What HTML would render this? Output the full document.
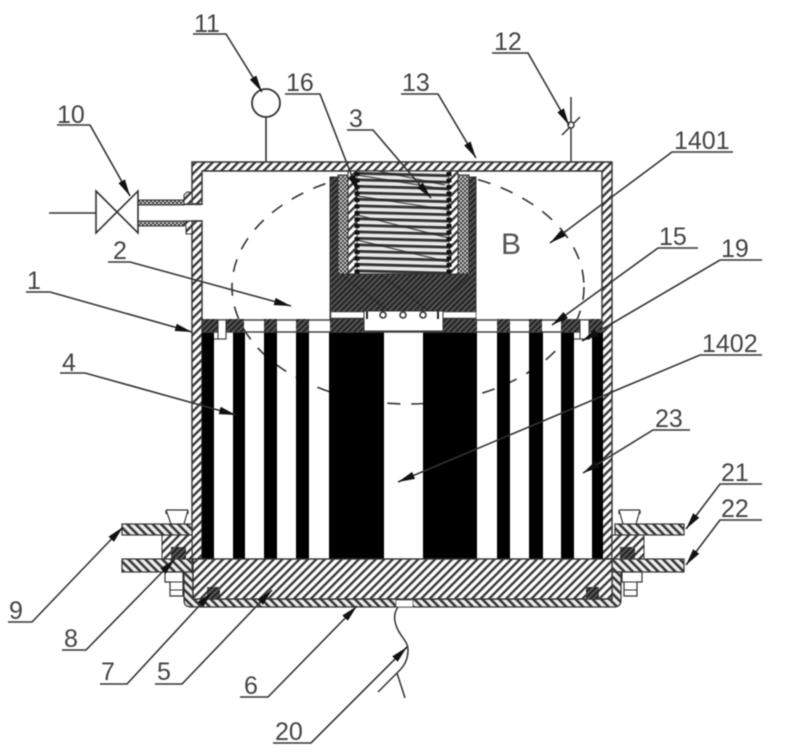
<!DOCTYPE html>
<html><head><meta charset="utf-8"><style>
html,body{margin:0;padding:0;background:#fff}
svg{display:block;filter:blur(.45px)}
text{font-family:"Liberation Sans",sans-serif;font-size:25px;fill:#444}
</style></head><body>
<svg width="800" height="752" viewBox="0 0 800 752" xmlns="http://www.w3.org/2000/svg">
<defs>
<pattern id="h" width="6" height="6" patternUnits="userSpaceOnUse" patternTransform="rotate(45)"><rect width="6" height="6" fill="#fff"/><rect width="2.4" height="6" fill="#3a3a3a"/></pattern>
<pattern id="hr" width="6" height="6" patternUnits="userSpaceOnUse" patternTransform="rotate(-45)"><rect width="6" height="6" fill="#eee"/><rect width="2.6" height="6" fill="#3a3a3a"/></pattern>
<pattern id="d" width="4" height="4" patternUnits="userSpaceOnUse" patternTransform="rotate(45)"><rect width="4" height="4" fill="#555"/><rect width="2" height="4" fill="#222"/></pattern>
<pattern id="x" width="4" height="4" patternUnits="userSpaceOnUse"><rect width="4" height="4" fill="#3a3a3a"/><rect width="2" height="2" fill="#ccc"/><rect x="2" y="2" width="2" height="2" fill="#ccc"/></pattern>
<pattern id="coil" width="8" height="6.5" patternUnits="userSpaceOnUse" patternTransform="rotate(1.5)"><rect width="8" height="6.5" fill="#e8e8e8"/><rect y="0" width="8" height="2.8" fill="#333"/></pattern>
<marker id="a" markerUnits="userSpaceOnUse" markerWidth="18" markerHeight="10" refX="17" refY="5" orient="auto"><path d="M0 1.2L17 5L0 8.8Z" fill="#111"/></marker>
</defs>
<rect width="800" height="752" fill="#fff"/>

<!-- dashed ellipse -->
<ellipse cx="408" cy="287" rx="176" ry="117" fill="none" stroke="#333" stroke-width="1.6" stroke-dasharray="13 11"/>

<!-- wall -->
<path d="M192 162H612V559H602V171H202V204H192ZM192 221H202V559H192Z" fill="url(#h)" stroke="#333" stroke-width="1.4"/>
<!-- pipe and bosses -->
<path d="M184 200V195L187 192H192V204H184ZM184 221H192V234H186V226L184 225Z" fill="url(#h)" stroke="#333" stroke-width="1"/>
<rect x="138" y="200" width="46" height="5" fill="url(#x)" stroke="#333" stroke-width="1"/>
<rect x="138" y="221" width="46" height="5" fill="url(#x)" stroke="#333" stroke-width="1"/>
<path d="M184 204.500H202M184 221H202" stroke="#333" stroke-width="1.2"/>
<path d="M96 191L138 233V191L96 233Z" fill="#fff" stroke="#333" stroke-width="1.6"/>
<path d="M49 213H96" stroke="#333" stroke-width="1.6"/>

<!-- gauge -->
<circle cx="266" cy="103" r="14" fill="#fff" stroke="#333" stroke-width="1.8"/>
<path d="M266 117V162" stroke="#333" stroke-width="1.6"/>
<!-- 12 -->
<path d="M571 97V162M562 135L580 117" stroke="#333" stroke-width="1.5"/>
<circle cx="571" cy="125" r="3" fill="#fff" stroke="#333" stroke-width="1.5"/>

<!-- bars -->
<g fill="#000">
<rect x="202" y="332" width="12" height="227"/>
<rect x="233" y="332" width="12" height="227"/>
<rect x="264" y="332" width="13" height="227"/>
<rect x="296" y="332" width="13" height="227"/>
<rect x="329" y="332" width="55" height="227"/>
<rect x="423" y="332" width="54" height="227"/>
<rect x="497" y="332" width="13" height="227"/>
<rect x="529" y="332" width="14" height="227"/>
<rect x="561" y="332" width="13" height="227"/>
<rect x="592" y="332" width="11" height="227"/>
</g>

<!-- top plate band -->
<path d="M202 320H602M202 332H602" stroke="#444" stroke-width="1.4"/>
<g fill="url(#d)">
<path d="M202 319H218V332H202Z"/>
<path d="M226 319H244V332H226Z"/>
<rect x="264" y="319" width="13" height="13"/>
<rect x="296" y="319" width="13" height="13"/>
<rect x="330" y="319" width="34" height="13"/>
<rect x="443" y="319" width="34" height="13"/>
<rect x="497" y="319" width="13" height="13"/>
<rect x="529" y="319" width="13" height="13"/>
<rect x="561" y="319" width="19" height="13"/>
<rect x="589" y="319" width="13" height="13"/>
</g>
<rect x="218" y="320" width="8" height="19" fill="#fff" stroke="#333"/>
<rect x="580" y="320" width="9" height="19" fill="#fff" stroke="#333"/>
<path d="M214 339H226V333M590 339H574" stroke="#444" stroke-width="1.2" fill="none"/>

<!-- core -->
<rect x="330" y="177" width="146" height="142" fill="url(#d)" stroke="#333"/>
<path d="M340 274L390 312M380 274L430 312M430 274L390 312M470 276L430 312" stroke="#222" stroke-width="1" opacity=".7"/>
<rect x="338" y="175" width="11" height="99" fill="url(#x)" stroke="#333"/>
<rect x="458" y="175" width="11" height="99" fill="url(#x)" stroke="#333"/>
<rect x="348" y="171" width="9" height="103" fill="url(#h)" stroke="#333"/>
<rect x="449" y="171" width="9" height="103" fill="url(#h)" stroke="#333"/>
<rect x="357" y="171" width="92" height="103" fill="url(#coil)" stroke="#333"/>
<path d="M357 175L449 190M357 196L449 210M357 215L449 238M357 240L449 262M378 171L445 185" stroke="#222" stroke-width="1.2" fill="none" opacity=".8"/>
<path d="M357 172V274M449 172V274" stroke="#111" stroke-width="5" stroke-dasharray="4 2.500"/>
<rect x="331" y="312" width="33" height="6" fill="#fff" stroke="#555" stroke-width=".7"/>
<rect x="443" y="312" width="33" height="6" fill="#fff" stroke="#555" stroke-width=".7"/>
<rect x="364" y="311" width="79" height="20" fill="#fff" stroke="#333" stroke-width="1"/>
<g fill="#fff" stroke="#333" stroke-width="1.6"><circle cx="383" cy="315" r="3"/><circle cx="403" cy="315" r="3"/><circle cx="423" cy="315" r="3"/></g>
<path d="M367 311V319M438 311V319" stroke="#222" stroke-width="2"/>

<!-- flanges left -->
<path d="M162 535H192V559H162Z" fill="url(#h)" stroke="#333" stroke-width="1"/>
<rect x="122" y="524" width="70" height="11" fill="url(#hr)" stroke="#333" stroke-width="1.2"/>
<rect x="122" y="559" width="70" height="13" fill="url(#hr)" stroke="#333" stroke-width="1.2"/>
<rect x="171" y="547" width="15" height="12" fill="url(#d)"/>
<path d="M166 510H188M166 510L171 524M188 510L184 524M166 510V514M188 510V514" stroke="#333" stroke-width="1.2" fill="none"/>
<path d="M165 572H183V596H170V582H165Z" fill="#fff" stroke="#333" stroke-width="1.2"/>
<path d="M170 582H183M170 590H183" stroke="#333"/>
<!-- flanges right -->
<path d="M612 535H644V559H612Z" fill="url(#h)" stroke="#333" stroke-width="1"/>
<rect x="615" y="524" width="69" height="11" fill="url(#hr)" stroke="#333" stroke-width="1.2"/>
<rect x="612" y="559" width="72" height="13" fill="url(#hr)" stroke="#333" stroke-width="1.2"/>
<rect x="620" y="547" width="15" height="12" fill="url(#d)"/>
<path d="M619 510H640M619 510L623 524M640 510L636 524M619 510V514M640 510V514" stroke="#333" stroke-width="1.2" fill="none"/>
<path d="M622 572H642V582H637V596H624V582H622Z" fill="#fff" stroke="#333" stroke-width="1.2"/>
<path d="M624 582H637M624 590H637" stroke="#333"/>

<!-- lid 6 -->
<path d="M184 572H193V599H612V572H621V600Q621 607 614 607H191Q184 607 184 600Z" fill="url(#hr)" stroke="#333" stroke-width="1.2"/>
<rect x="396" y="600" width="17" height="7" fill="#fff" stroke="#555" stroke-width=".8"/>
<!-- base plate -->
<rect x="193" y="559" width="419" height="40" fill="url(#h)" stroke="#333" stroke-width="1.4"/>
<rect x="207" y="587" width="13" height="12" fill="url(#d)"/>
<rect x="586" y="587" width="13" height="12" fill="url(#d)"/>

<!-- wire -->
<path d="M398 607C393 614 394 622 398 630C402 638 408 642 408 650C408 662 402 668 398 672L378 692M397 673L405 698" fill="none" stroke="#333" stroke-width="1.500"/>

<text x="501" y="254" style="font-size:30px;fill:#555">B</text>

<!-- leaders -->
<g fill="none" stroke="#333" stroke-width="1.6">
<path marker-end="url(#a)" d="M193 34H226L262 92"/>
<path marker-end="url(#a)" d="M285 94H320L358 192"/>
<path marker-end="url(#a)" d="M347 130H373L431 198"/>
<path marker-end="url(#a)" d="M401 94H438L476 158"/>
<path marker-end="url(#a)" d="M492 53H528L569 125"/>
<path marker-end="url(#a)" d="M733 152H672L550 243"/>
<path marker-end="url(#a)" d="M698 248H658L552 325"/>
<path marker-end="url(#a)" d="M762 260H720L582 341"/>
<path marker-end="url(#a)" d="M762 355H700L398 482"/>
<path marker-end="url(#a)" d="M690 430H653L583 473"/>
<path marker-end="url(#a)" d="M762 484H720L686 529"/>
<path marker-end="url(#a)" d="M762 520H720L686 565"/>
<path marker-end="url(#a)" d="M57 125H90L130 196"/>
<path marker-end="url(#a)" d="M108 262H130L291 306"/>
<path marker-end="url(#a)" d="M26 292H50L192 332"/>
<path marker-end="url(#a)" d="M60 373H85L236 415"/>
<path marker-end="url(#a)" d="M8 622H32L123 527"/>
<path marker-end="url(#a)" d="M62 650H86L175 559"/>
<path marker-end="url(#a)" d="M100 684H127L212 592"/>
<path marker-end="url(#a)" d="M155 684H182L272 590"/>
<path marker-end="url(#a)" d="M240 697H268L357 606"/>
<path marker-end="url(#a)" d="M273 743H311L407 647"/>
</g>

<!-- labels -->
<text x="194" y="32">11</text>
<text x="286" y="91">16</text>
<text x="349" y="127">3</text>
<text x="402" y="91">13</text>
<text x="494" y="50">12</text>
<text x="674" y="149">1401</text>
<text x="659" y="245">15</text>
<text x="721" y="257">19</text>
<text x="702" y="352">1402</text>
<text x="655" y="427">23</text>
<text x="721" y="481">21</text>
<text x="721" y="517">22</text>
<text x="57" y="123">10</text>
<text x="113" y="259">2</text>
<text x="27" y="289">1</text>
<text x="62" y="371">4</text>
<text x="9" y="619">9</text>
<text x="64" y="647">8</text>
<text x="101" y="680">7</text>
<text x="157" y="680">5</text>
<text x="244" y="694">6</text>
<text x="275" y="740">20</text>
</svg>
</body></html>
